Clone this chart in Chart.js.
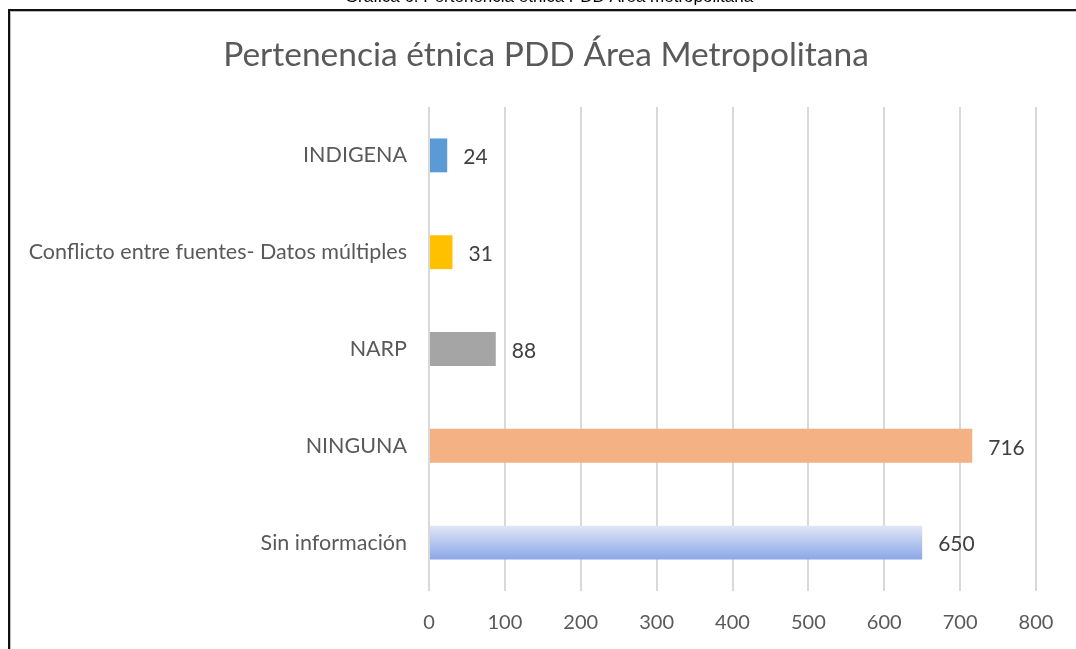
<!DOCTYPE html>
<html>
<head>
<meta charset="utf-8">
<script src="https://cdn.jsdelivr.net/npm/chart.js@4.4.1/dist/chart.umd.min.js"></script>
<style>
  html, body { margin: 0; padding: 0; background: #ffffff; width: 1076px; height: 649px; overflow: hidden; }
  #wrap { position: relative; width: 1076px; height: 649px; }
  #c { position: absolute; left: 0; top: 0; }
  #caption { position: absolute; left: 0; width: 1098px; top: -12px; text-align: center;
             font-family: "Liberation Sans", Arial, sans-serif; font-size: 17px; color: #000; line-height: 18px; white-space: nowrap; }
  #frame { position: absolute; left: 8px; top: 9px; width: 1100px; height: 700px;
           border-left: 2px solid #111; border-top: 2px solid #111; box-shadow: inset 1px 1px 0 #bbb; pointer-events: none; }
</style>
</head>
<body>
<div id="wrap">
  <canvas id="c" width="1076" height="649"></canvas>
  <div id="caption">Gráfica 6. Pertenencia étnica PDD Área metropolitana</div>
  <div id="frame"></div>
</div>
<script>
const categories = ["INDIGENA", "Conflicto entre fuentes- Datos múltiples", "NARP", "NINGUNA", "Sin información"];
const values = [24, 31, 88, 716, 650];
const barColors = ["#5b9bd5", "#ffc000", "#a5a5a5", "#f4b183", null];
const xTicks = [0, 100, 200, 300, 400, 500, 600, 700, 800];
const chartTitle = "Pertenencia étnica PDD Área Metropolitana";

const FONT = "Lato, 'Open Sans', sans-serif";

function barFill(ctx) {
  const i = ctx.dataIndex;
  if (barColors[i]) return barColors[i];
  const chart = ctx.chart;
  const ys = chart.scales && chart.scales.y;
  if (!ys || !isFinite(ys.getPixelForValue(i))) return "#b4c7e7";
  const cy = ys.getPixelForValue(i);
  const h = (ys.height / categories.length) * 0.35;
  const g = chart.ctx.createLinearGradient(0, cy - h / 2, 0, cy + h / 2);
  g.addColorStop(0, "#e0e6f6");
  g.addColorStop(1, "#8ba7e6");
  return g;
}

const valueLabels = {
  id: "valueLabels",
  afterDatasetsDraw(chart) {
    const c = chart.ctx;
    const meta = chart.getDatasetMeta(0);
    c.save();
    c.font = "21px " + FONT;
    c.fillStyle = "#404040";
    c.textAlign = "left";
    c.textBaseline = "middle";
    meta.data.forEach((bar, i) => {
      c.fillText(String(values[i]), bar.x + 16, bar.y + 2);
    });
    c.restore();
  }
};

const titlePlugin = {
  id: "titlePlugin",
  afterDraw(chart) {
    const c = chart.ctx;
    c.save();
    c.font = "33.5px " + FONT;
    c.fillStyle = "#595959";
    c.textAlign = "center";
    c.textBaseline = "middle";
    c.fillText(chartTitle, 546, 55);
    c.restore();
  }
};

new Chart(document.getElementById("c"), {
  type: "bar",
  data: {
    labels: categories,
    datasets: [{
      data: values,
      backgroundColor: barFill,
      borderWidth: 0,
      barPercentage: 0.35,
      categoryPercentage: 1.0
    }]
  },
  options: {
    indexAxis: "y",
    responsive: false,
    animation: false,
    layout: { padding: { left: 0, right: 40, top: 107, bottom: 0 } },
    plugins: {
      legend: { display: false },
      tooltip: { enabled: false },
      title: { display: false }
    },
    scales: {
      x: {
        min: 0,
        max: 800,
        afterBuildTicks(scale) { scale.ticks = xTicks.map(v => ({ value: v })); },
        afterFit(scale) { scale.height = 58; },
        grid: { color: "#d9d9d9", lineWidth: 2, drawTicks: false },
        border: { display: false },
        ticks: { color: "#595959", font: { family: FONT, size: 20 }, padding: 20 }
      },
      y: {
        afterFit(scale) { scale.width = 429; },
        grid: { display: false },
        border: { display: false },
        ticks: { color: "#595959", font: { family: FONT, size: 21.5 }, padding: 14 }
      }
    }
  },
  plugins: [valueLabels, titlePlugin]
});
</script>
</body>
</html>
